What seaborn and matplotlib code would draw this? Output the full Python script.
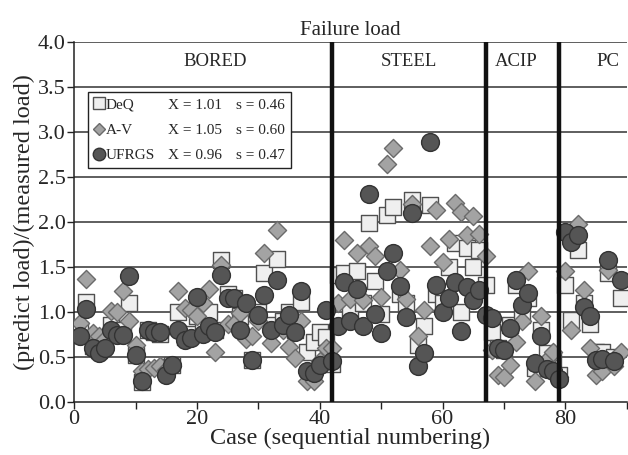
import numpy as np
import pandas as pd
import matplotlib
matplotlib.use("Agg")
import matplotlib.pyplot as plt
import seaborn as sns
from matplotlib.lines import Line2D

# Case numbers (sequential numbering of the load tests)
cases = list(range(1, 90))

# Ratio (predicted load)/(measured load) for each method, case by case
deq = [0.80, 1.11, 0.62, 0.58, 0.65, 0.85, 0.78, 0.80, 1.10, 0.52,
       0.22, 0.80, 0.78, 0.76, 0.39, 0.41, 1.00, 0.72, 0.75, 0.95,
       0.80, 1.00, 0.80, 1.58, 1.20, 1.15, 0.95, 1.05, 0.47, 1.00,
       1.43, 0.85, 1.59, 0.90, 1.00, 0.80, 1.11, 0.56, 0.67, 0.78,
       0.72, 0.42, 1.41, 1.43, 1.00, 1.45, 1.10, 1.99, 1.34, 0.98,
       2.08, 2.17, 1.20, 1.10, 2.24, 0.63, 0.84, 2.19, 1.20, 1.10,
       1.50, 1.77, 1.00, 1.71, 1.50, 1.69, 1.30, 0.78, 0.60, 0.58,
       0.85, 1.30, 0.97, 1.16, 0.38, 0.80, 0.54, 0.45, 0.30, 1.30,
       0.91, 1.69, 1.10, 0.87, 0.55, 0.55, 1.43, 0.50, 1.15]
av = [0.88, 1.37, 0.77, 0.73, 0.70, 1.01, 1.00, 1.23, 0.90, 0.63,
      0.34, 0.37, 0.38, 0.40, 0.36, 0.40, 1.23, 1.04, 1.02, 0.95,
      1.10, 1.26, 0.56, 1.52, 0.87, 0.87, 0.99, 0.70, 0.73, 0.90,
      1.66, 0.65, 1.91, 0.80, 0.61, 0.49, 0.90, 0.23, 0.23, 0.45,
      0.60, 0.60, 1.10, 1.80, 1.14, 1.66, 1.13, 1.73, 1.62, 1.17,
      2.64, 2.82, 1.47, 1.14, 2.20, 0.73, 1.02, 1.73, 2.13, 1.56,
      1.81, 2.21, 2.11, 1.86, 2.07, 1.87, 1.62, 0.58, 0.30, 0.28,
      0.41, 0.67, 0.90, 1.46, 0.23, 0.96, 0.47, 0.55, 0.28, 1.45,
      0.80, 1.98, 1.24, 0.60, 0.30, 0.34, 1.47, 0.40, 0.56]
ufrgs = [0.73, 1.03, 0.60, 0.54, 0.60, 0.80, 0.74, 0.74, 1.40, 0.52,
         0.23, 0.80, 0.78, 0.78, 0.30, 0.41, 0.80, 0.69, 0.71, 1.17,
         0.76, 0.84, 0.78, 1.41, 1.15, 1.15, 0.80, 1.10, 0.47, 0.97,
         1.19, 0.80, 1.36, 0.86, 0.97, 0.78, 1.23, 0.34, 0.32, 0.41,
         1.02, 0.45, 0.84, 1.33, 0.90, 1.26, 0.84, 2.31, 0.98, 0.77,
         1.45, 1.65, 1.29, 0.94, 2.10, 0.40, 0.54, 2.89, 1.30, 1.00,
         1.15, 1.33, 0.79, 1.28, 1.13, 1.24, 0.97, 0.93, 0.60, 0.58,
         0.82, 1.36, 1.08, 1.21, 0.43, 0.73, 0.37, 0.34, 0.26, 1.89,
         1.78, 1.85, 1.06, 0.96, 0.47, 0.48, 1.58, 0.45, 1.36]

methods = ["DeQ", "A-V", "UFRGS"]
mean_ratio = [1.01, 1.05, 0.96]
std_ratio = [0.46, 0.60, 0.47]

# Pile type groups and the case numbers where one group ends
pile_types = ["BORED", "STEEL", "ACIP", "PC"]
group_edges = [42, 67, 79]

sns.set_theme(style="white")
plt.rcParams["font.family"] = ["Liberation Serif", "DejaVu Serif"]
plt.rcParams["axes.edgecolor"] = "#222222"

fig = plt.figure(figsize=(6.28, 4.55), dpi=100)
ax = fig.add_axes([0.118, 0.1165, 0.880, 0.7915])

df = pd.DataFrame({"case": cases * 3,
                   "ratio": deq + av + ufrgs,
                   "method": ["DeQ"] * len(cases) + ["A-V"] * len(cases) + ["UFRGS"] * len(cases)})

styles = {
    "DeQ":   dict(marker="s", s=140, color="#efefef", edgecolor="#505050", linewidth=1.0),
    "A-V":   dict(marker="D", s=85, color="#a3a3a3", edgecolor="#6a6a6a", linewidth=1.0),
    "UFRGS": dict(marker="o", s=165, color="#555555", edgecolor="#333333", linewidth=1.0),
}
for m in methods:
    sub = df[df["method"] == m]
    sns.scatterplot(data=sub, x="case", y="ratio", ax=ax, legend=False, zorder=3, **styles[m])

ax.set_xlim(0, 90)
ax.set_ylim(0, 4.0)
ax.set_yticks(np.arange(0, 4.01, 0.5))
ax.set_yticklabels([f"{v:.1f}" for v in np.arange(0, 4.01, 0.5)])
ax.set_xticks(np.arange(0, 91, 10))
ax.set_xticklabels([str(v) if v % 20 == 0 else "" for v in range(0, 91, 10)])
ax.tick_params(axis="both", which="both", direction="out", length=5, width=1,
               color="#222222", labelsize=16, pad=1, bottom=True, left=True)

# horizontal reference lines
for yv in np.arange(0.5, 4.01, 0.5):
    ax.axhline(yv, color="#333333", linewidth=1.1, zorder=1)

for side in ["top", "right"]:
    ax.spines[side].set_visible(False)
for side in ["left", "bottom"]:
    ax.spines[side].set_linewidth(1.1)

# pile group separators
for xe in group_edges:
    ax.axvline(xe, color="#111111", linewidth=3.2, zorder=4)

# group names centred in each band
centers = [23, 54.5, 72, 87]
for name, cx in zip(pile_types, centers):
    ax.text(cx, 3.78, name, ha="center", va="center", fontsize=13.5)

ax.set_xlabel("Case (sequential numbering)", fontsize=17.5, labelpad=-1)
ax.set_ylabel("(predict load)/(measured load)", fontsize=17.5, labelpad=2)
ax.set_title("Failure load", fontsize=15, pad=5)

# legend with summary statistics
handles = [Line2D([], [], linestyle="none", marker=styles[m]["marker"],
                  markersize={"DeQ": 8, "A-V": 6, "UFRGS": 9}[m],
                  markerfacecolor=styles[m]["color"],
                  markeredgecolor=styles[m]["edgecolor"]) for m in methods]
blank = Line2D([], [], linestyle="none")
labels = (methods
          + [f"X = {v:.2f}" for v in mean_ratio]
          + [f"s = {v:.2f}" for v in std_ratio])
leg = ax.legend(handles + [blank] * 6, labels, ncol=3, loc="upper left",
                bbox_to_anchor=(0.025, 0.861), borderaxespad=0,
                fontsize=11, frameon=True, fancybox=False, framealpha=1,
                edgecolor="#222222", handlelength=0.6, handletextpad=0.15,
                columnspacing=0.15, labelspacing=0.75, borderpad=0.4)
leg.get_frame().set_linewidth(1.0)
leg.set_zorder(5)

fig.savefig("out.png", dpi=100, facecolor="white")
